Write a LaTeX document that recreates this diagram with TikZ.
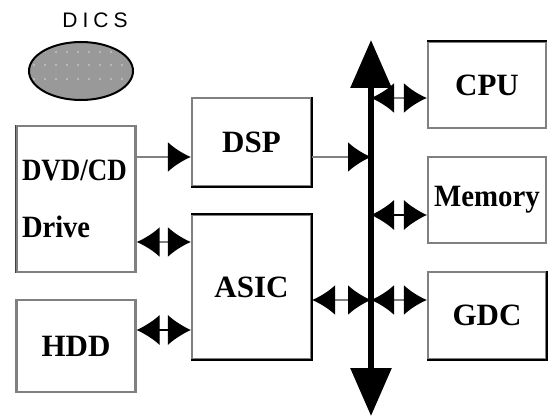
\documentclass[tikz,border=0pt]{standalone}
\usepackage{fontspec}
\setmainfont{Liberation Serif}
\setsansfont{Liberation Sans}
\usetikzlibrary{arrows.meta,shapes.geometric}
\tikzset{
  unit/.style={draw=black!50, line width=2.2pt, fill=white, minimum width=119pt, inner sep=0pt,
    font=\fontsize{31}{31}\selectfont\bfseries},
  link/.style={draw=black!50, line width=2.5pt},
  edge/.style={draw=black, line width=1.3pt},
  head/.tip={Latex[length=23pt,width=30pt,black]},
  bustip/.tip={Triangle[length=48pt,width=40pt]},
}
\begin{document}
\begin{tikzpicture}[x=1pt,y=-1pt]
\useasboundingbox (0,0) rectangle (548,417);
% label and disc
\node[inner sep=0pt] (dicslabel) at (95,20) {\sffamily\fontsize{21}{21}\selectfont D\hspace{5pt}I\hspace{5pt}C\hspace{5pt}S};
\node[ellipse, draw=black, line width=2pt, fill=black!40, minimum width=104pt, minimum height=58pt, inner sep=0pt] (disc) at (81,71) {};
\begin{scope}
  \clip (81,71) ellipse (50pt and 27pt);
  \foreach \yy in {52,65,79} {
    \foreach \xx in {34,45,...,130} {
      \fill[black!15] (\xx,\yy) circle (0.9pt);
    }
  }
\end{scope}
% boxes
\node[unit, minimum height=146pt, text width=108pt, align=left, font=\fontsize{31}{57}\selectfont\bfseries] (dvd) at (76,199) {\scalebox{0.87}[1]{DVD/CD}\\\scalebox{0.92}[1]{Drive}};
\node[unit, minimum height=92pt] (hdd) at (76,346) {HDD};
\node[unit, minimum height=88pt] (dsp) at (251.5,142) {DSP};
\node[unit, minimum height=144pt] (asic) at (251.5,287) {ASIC};
\node[unit, minimum width=118pt, minimum height=86pt] (cpu) at (487,85) {CPU};
\node[unit, minimum width=118pt, minimum height=86pt] (mem) at (487,200) {\scalebox{0.93}[1]{Memory}};
\node[unit, minimum width=118pt, minimum height=87pt] (gdc) at (487,315.5) {GDC};
% darker sides
\draw[edge] (dsp.north east) -- (dsp.south east) -- (dsp.south west);
\draw[edge] (asic.north west) -- (asic.north east) -- (asic.south east) -- (asic.south west);
\draw[edge] (cpu.north west) -- (cpu.north east);
\draw[edge] (gdc.north east) -- (gdc.south east) -- (gdc.south west);
\draw[edge, draw=black!75, line width=1pt] (dvd.north west) -- (dvd.south west);
% bus
\coordinate (bustop) at (371,40);
\coordinate (busbot) at (371,416);
\coordinate (bdsp) at (371,157);
\coordinate (bcpu) at (371,98);
\coordinate (bmem) at (371,215);
\coordinate (bgdc) at (371,300);
\draw[line width=6pt, {bustip}-{bustip}] (bustop) -- (busbot);
% connectors
\draw[link, -{head}] (dvd.east |- bdsp) -- (dsp.west |- bdsp);
\draw[link, -{head}] (dsp.east |- bdsp) -- (bdsp);
\draw[link, {head}-{head}] (bcpu) -- (cpu.west |- bcpu);
\draw[link, draw=black, line width=1.2pt, {head}-{head}] (bmem) -- (mem.west |- bmem);
\draw[link, {head}-{head}] (bgdc) -- (gdc.west |- bgdc);
\draw[link, {head}-{head}] (asic.east |- bgdc) -- (bgdc);
\coordinate (ldvd) at (165,242);
\coordinate (lhdd) at (165,330);
\draw[link, {head}-{head}] (dvd.east |- ldvd) -- (asic.west |- ldvd);
\draw[link, draw=black, line width=1.2pt, {head}-{head}] (hdd.east |- lhdd) -- (asic.west |- lhdd);
\end{tikzpicture}
\end{document}
